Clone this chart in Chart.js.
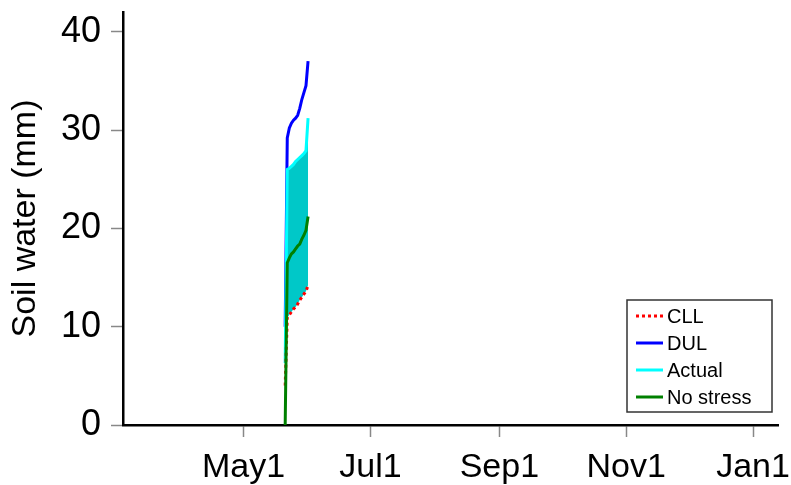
<!DOCTYPE html>
<html>
<head>
<meta charset="utf-8">
<script src="https://cdn.jsdelivr.net/npm/chart.js@4/dist/chart.umd.min.js"></script>
<style>
  body { margin: 0; background: #fff; }
  canvas { display: block; }
</style>
</head>
<body>
<canvas id="soil" width="791" height="485"></canvas>
<script>
// day of year for each daily output
const days = [141, 142, 143, 144, 145, 146, 147, 148, 149, 150, 151, 152];
const cll = [4.0, 10.9, 11.2, 11.5, 11.8, 12.0, 12.3, 12.7, 13.0, 13.3, 13.6, 14.2];
const dul = [10.0, 29.2, 30.2, 30.7, 31.0, 31.2, 31.5, 32.2, 33.1, 33.8, 34.5, 37.0];
const actual = [6.3, 26.0, 26.1, 26.3, 26.5, 26.8, 27.0, 27.2, 27.4, 27.6, 27.9, 31.2];
const noStress = [0, 16.5, 17.0, 17.4, 17.6, 17.9, 18.2, 18.4, 18.9, 19.3, 19.8, 21.2];

const tickDays = [121, 182, 244, 305, 366];
const tickLabels = ["May1", "Jul1", "Sep1", "Nov1", "Jan1"];
const yTicks = [0, 10, 20, 30, 40];

const pts = arr => arr.map((v, i) => ({ x: days[i], y: v }));
const FONT = "Arial, 'Liberation Sans', sans-serif";

// legend box drawn inside the plot, lower right
const boxLegend = {
  id: "boxLegend",
  afterDraw(chart) {
    const c = chart.ctx;
    const x0 = 627, y0 = 300, w = 145, h = 112;
    c.save();
    c.fillStyle = "#fff";
    c.fillRect(x0, y0, w, h);
    c.strokeStyle = "#333";
    c.lineWidth = 1.5;
    c.strokeRect(x0, y0, w, h);
    c.font = "20px " + FONT;
    c.textBaseline = "middle";
    chart.data.datasets.forEach((ds, i) => {
      const y = y0 + 16 + i * 27;
      c.strokeStyle = ds.borderColor;
      c.lineWidth = 3;
      c.setLineDash(ds.borderDash || []);
      c.beginPath();
      c.moveTo(x0 + 9, y);
      c.lineTo(x0 + 36, y);
      c.stroke();
      c.setLineDash([]);
      c.fillStyle = "#000";
      c.fillText(ds.label, x0 + 40, y + 1);
    });
    c.restore();
  }
};

new Chart(document.getElementById("soil"), {
  type: "line",
  data: {
    datasets: [
      { label: "CLL", data: pts(cll), borderColor: "#ff0000", borderDash: [3, 3], order: 1.5 },
      { label: "DUL", data: pts(dul), borderColor: "#0000ff", order: 3 },
      { label: "Actual", data: pts(actual), borderColor: "#00ffff",
        fill: { target: "-2" }, backgroundColor: "rgb(0,200,200)", order: 2 },
      { label: "No stress", data: pts(noStress), borderColor: "#008000", order: 1 }
    ]
  },
  options: {
    responsive: false,
    animation: false,
    layout: { padding: { top: 12, right: 13, left: 0, bottom: 0 } },
    elements: {
      line: { borderWidth: 3, tension: 0, fill: false },
      point: { radius: 0 }
    },
    plugins: { legend: { display: false }, tooltip: { enabled: false } },
    scales: {
      x: {
        type: "linear",
        min: 63,
        max: 378,
        afterBuildTicks: s => { s.ticks = tickDays.map(v => ({ value: v })); },
        afterFit: s => { s.height = 60; s.paddingLeft = 0; s.paddingRight = 0; },
        ticks: {
          callback: v => tickLabels[tickDays.indexOf(v)],
          font: { family: FONT, size: 34 },
          color: "#000",
          padding: 10,
          maxRotation: 0,
          autoSkip: false
        },
        grid: { drawOnChartArea: false, tickLength: 12, tickColor: "#888", tickWidth: 1.5 },
        border: { color: "#000", width: 2.5 }
      },
      y: {
        min: 0,
        max: 42,
        afterBuildTicks: s => { s.ticks = yTicks.map(v => ({ value: v })); },
        afterFit: s => { s.width = 123; s.paddingTop = 0; s.paddingBottom = 0; },
        ticks: {
          font: { family: FONT, size: 36 },
          color: "#000",
          padding: 10
        },
        grid: { drawOnChartArea: false, tickLength: 12, tickColor: "#888", tickWidth: 1.5 },
        border: { color: "#000", width: 2.5 },
        title: {
          display: true,
          text: "Soil water (mm)",
          font: { family: FONT, size: 34 },
          color: "#000",
          padding: { top: 5, bottom: 0 }
        }
      }
    }
  },
  plugins: [boxLegend]
});
</script>
</body>
</html>
